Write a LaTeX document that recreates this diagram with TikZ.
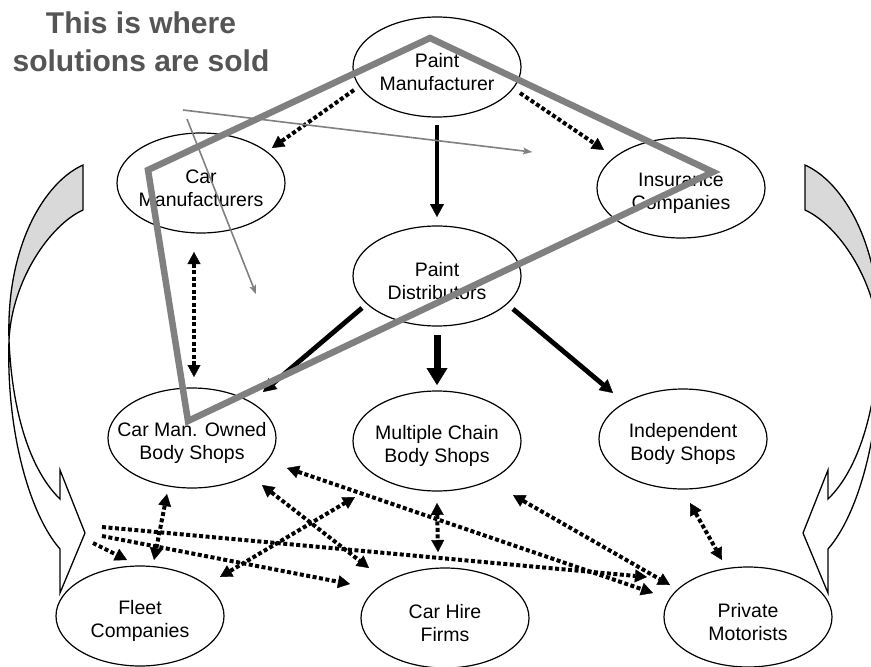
\documentclass[tikz,border=0pt]{standalone}
\usepackage{fontspec}
\setmainfont{Liberation Sans}
\usetikzlibrary{arrows.meta,shapes.geometric}

\definecolor{framegray}{HTML}{808080}
\definecolor{titlegray}{HTML}{555555}
\definecolor{shadegray}{HTML}{D9D9D9}

\begin{document}
\begin{tikzpicture}[x=1pt,y=-1pt,
  ell/.style={draw, line width=1.2pt, ellipse, minimum width=168pt,
    minimum height=100pt, inner sep=0pt},
  lbl/.style={font=\fontsize{19.5}{23}\selectfont, align=center,
    inner sep=0pt, yshift=-5pt},
  headA/.tip={Triangle[length=13pt,width=14pt,line width=0.4pt]},
  headB/.tip={Triangle[length=17pt,width=21pt,line width=0.4pt]},
  headC/.tip={Triangle[length=12pt,width=13pt,line width=0.4pt]},
  headD/.tip={Stealth[length=9pt,width=7pt,inset=2pt,line width=0.3pt]},
  flow/.style={line width=4.8pt, -headA},
  flowbig/.style={line width=7pt, -headB},
  dotlink/.style={line width=4pt, dash pattern=on 4pt off 2.5pt, -headC},
  dotboth/.style={line width=4pt, dash pattern=on 4pt off 2.5pt, headC-headC},
  hint/.style={draw=framegray, line width=1.6pt, -headD},
  frame/.style={draw=framegray, line width=6.5pt, line join=miter},
  returnshape/.style={draw, line width=1.3pt, line join=miter},
  title/.style={font=\bfseries\fontsize{30}{38}\selectfont, text=titlegray,
    align=center, inner sep=0pt}
]
\useasboundingbox (0,0) rectangle (871,667);

% curved return arrow on the left (shaded back face + front band)
\begin{scope}
  \path[returnshape, fill=shadegray] (83,165) .. controls (45,182) and (6,245) .. (9,340)
    .. controls (12,280) and (50,225) .. (83,210) -- cycle;
  \path[returnshape, fill=white] (9,340) .. controls (6,432) and (30,515) .. (60,549)
    -- (60,593) -- (85,533) -- (60,470) -- (60,499)
    .. controls (30,470) and (12,412) .. (9,340) -- cycle;
\end{scope}
% the same arrow mirrored on the right
\begin{scope}[xshift=888pt, xscale=-1]
  \path[returnshape, fill=shadegray] (83,165) .. controls (45,182) and (6,245) .. (9,340)
    .. controls (12,280) and (50,225) .. (83,210) -- cycle;
  \path[returnshape, fill=white] (9,340) .. controls (6,432) and (30,515) .. (60,549)
    -- (60,593) -- (85,533) -- (60,470) -- (60,499)
    .. controls (30,470) and (12,412) .. (9,340) -- cycle;
\end{scope}

% actors
\node[ell, label={[lbl]center:{Paint\\Manufacturer}}] (pm) at (437,67) {};
\node[ell, label={[lbl]center:{Car\\Manufacturers}}] (cm) at (201,183) {};
\node[ell, label={[lbl]center:{Insurance\\Companies}}] (ic) at (681,188) {};
\node[ell, label={[lbl]center:{Paint\\Distributors}}] (pd) at (437,276) {};
\node[ell, label={[lbl]center:{Car Man. Owned\\Body Shops}}] (cmo) at (192,438) {};
\node[ell, label={[lbl]center:{Multiple Chain\\Body Shops}}] (mc) at (437,441) {};
\node[ell, label={[lbl]center:{Independent\\Body Shops}}] (ib) at (683,439) {};
\node[ell, label={[lbl]center:{Fleet\\Companies}}] (fl) at (140,616) {};
\node[ell, label={[lbl]center:{Car Hire\\Firms}}] (ch) at (445,618) {};
\node[ell, label={[lbl]center:{Private\\Motorists}}] (pv) at (748,617) {};

% supply flow
\draw[flow] ([shift={(0,58)}]pm.center) -- ([shift={(0,-59)}]pd.center);
\draw[flow] ([shift={(-75,32)}]pd.center) -- ([shift={(71,-46)}]cmo.center);
\draw[flowbig] ([shift={(0,59)}]pd.center) -- ([shift={(0,-56)}]mc.center);
\draw[flow] ([shift={(76,33)}]pd.center) -- ([shift={(-70,-46)}]ib.center);

% influence links
\draw[dotlink] ([shift={(-83,23)}]pm.center) -- ([shift={(71,-35)}]cm.center);
\draw[dotlink] ([shift={(83,26)}]pm.center) -- ([shift={(-77,-38)}]ic.center);
\draw[dotboth] ([shift={(-7,69)}]cm.center) -- ([shift={(2,-61)}]cmo.center);
\draw[dotboth] ([shift={(-25,56)}]cmo.center) -- ([shift={(14,-56)}]fl.center);
\draw[dotboth] ([shift={(70,47)}]cmo.center) -- ([shift={(-76,-50)}]ch.center);
\draw[dotboth] ([shift={(95,30)}]cmo.center) -- ([shift={(-95,-24)}]pv.center);
\draw[dotboth] ([shift={(80,-39)}]fl.center) -- ([shift={(-82,56)}]mc.center);
\draw[dotboth] ([shift={(0,62)}]mc.center) -- ([shift={(-7,-66)}]ch.center);
\draw[dotboth] ([shift={(76,54)}]mc.center) -- ([shift={(-78,-32)}]pv.center);
\draw[dotboth] ([shift={(7,64)}]ib.center) -- ([shift={(-26,-57)}]pv.center);

\coordinate (u0) at (102,527);
\coordinate (w0) at (102,536);
\coordinate (s0) at (93,543);
\draw[dotlink] (u0) -- ([shift={(-101,-40)}]pv.center);
\draw[dotlink] (w0) -- ([shift={(-95,-34)}]ch.center);
\draw[dotlink] (s0) -- ([shift={(-13,-56)}]fl.center);

% selling zone outline
\coordinate (qa) at (430,38);
\coordinate (qb) at (713,172);
\coordinate (qc) at (188,421);
\coordinate (qd) at (148,170);
\path[frame] (qa) -- (qb) -- (qc) -- (qd) -- cycle;

% pointers
\coordinate (g1a) at (183,110);
\coordinate (g1b) at (532,152);
\coordinate (g2a) at (187,119);
\coordinate (g2b) at (256,294);
\draw[hint] (g1a) -- (g1b);
\draw[hint] (g2a) -- (g2b);

\node[title] (ttl) at (141,42) {This is where\\solutions are sold};
\end{tikzpicture}
\end{document}
